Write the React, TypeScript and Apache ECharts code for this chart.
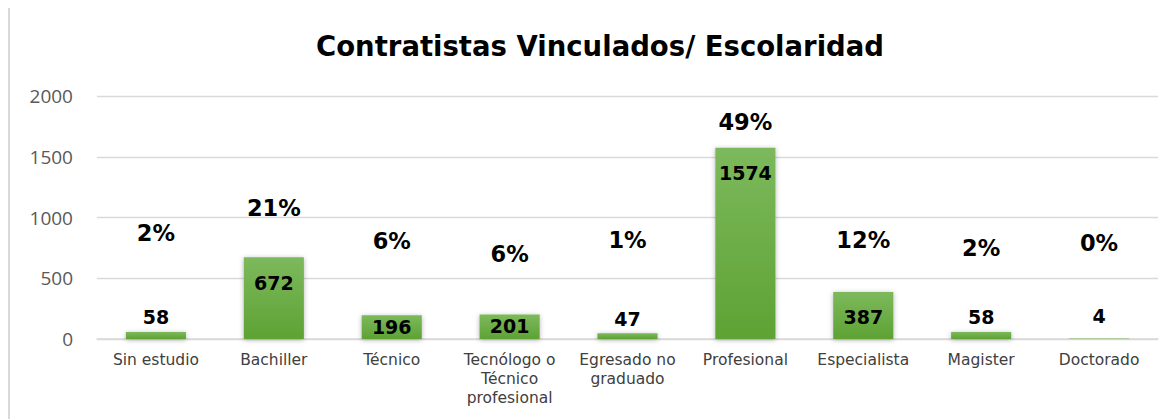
import React, { useEffect, useRef } from "react";
import * as echarts from "echarts";

const titleText = "Contratistas Vinculados/ Escolaridad";
const categories = [
  "Sin estudio",
  "Bachiller",
  "Técnico",
  "Tecnólogo o\nTécnico\nprofesional",
  "Egresado no\ngraduado",
  "Profesional",
  "Especialista",
  "Magister",
  "Doctorado",
];
const values = [58, 672, 196, 201, 47, 1574, 387, 58, 4];
// Height (in axis units) at which each percentage label sits
const pctLabelY = [872, 1078, 807, 700, 815, 1786, 815, 749, 790];
const yTicks = [0, 500, 1000, 1500, 2000];

export default function App() {
  const ref = useRef<HTMLDivElement>(null);
  useEffect(() => {
    if (!ref.current) return;
    const chart = echarts.init(ref.current, undefined, { renderer: "svg" });
    const total = values.reduce((a, b) => a + b, 0);
    const pct = values.map((v) => Math.round((v / total) * 100) + "%");
    const font = "'DejaVu Sans', sans-serif";

    const barData = values.map((v) => {
      let label: any;
      if (v >= 300) label = { position: "insideTop", distance: 16 };
      else if (v >= 100) label = { position: "insideTop", distance: 2 };
      else if (v >= 20) label = { position: "top", distance: 5 };
      else label = { position: "top", distance: 13 };
      return { value: v, label };
    });

    chart.setOption({
      animation: false,
      title: {
        text: titleText,
        left: 585,
        top: 19,
        textAlign: "center",
        textStyle: { fontFamily: font, fontWeight: "bold", fontSize: 27.5, color: "#000" },
      },
      grid: { left: 87, right: 16, top: 88, bottom: 80, containLabel: false },
      xAxis: {
        type: "category",
        data: categories,
        axisTick: { show: false },
        axisLine: { lineStyle: { color: "#d9d9d9", width: 1.5 } },
        axisLabel: {
          color: "#404040",
          fontFamily: font,
          fontSize: 15.5,
          lineHeight: 19,
          margin: 11,
          interval: 0,
        },
      },
      yAxis: {
        type: "value",
        min: yTicks[0],
        max: yTicks[yTicks.length - 1],
        interval: 500,
        axisLine: { show: false },
        axisTick: { show: false },
        splitLine: { lineStyle: { color: "#d9d9d9", width: 1.3 } },
        axisLabel: {
          color: "#595959",
          fontFamily: "'Open Sans', sans-serif",
          fontSize: 19,
          margin: 24,
          formatter: (v: number) => String(v),
        },
      },
      series: [
        {
          type: "bar",
          data: barData,
          barWidth: "51%",
          itemStyle: {
            color: new echarts.graphic.LinearGradient(0, 0, 0, 1, [
              { offset: 0, color: "#7cb95c" },
              { offset: 1, color: "#5ea234" },
            ]),
            shadowBlur: 5,
            shadowColor: "rgba(0,0,0,0.3)",
            shadowOffsetY: 1,
          },
          label: {
            show: true,
            color: "#000",
            fontFamily: font,
            fontWeight: "bold",
            fontSize: 19,
          },
          z: 2,
        },
        {
          type: "scatter",
          data: pctLabelY.map((y, i) => [i, y]),
          symbolSize: 0,
          itemStyle: { color: "#000", opacity: 1 },
          silent: true,
          label: {
            show: true,
            position: "inside",
            formatter: (p: any) => pct[p.dataIndex],
            color: "#000",
            opacity: 1,
            fontFamily: font,
            fontWeight: "bold",
            fontSize: 22.5,
          },
          z: 3,
        },
      ],
    });
    return () => chart.dispose();
  }, []);

  return (
    <div
      ref={ref}
      style={{
        width: 1164,
        height: 411,
        marginTop: -2,
        borderTop: "2px solid #d9d9d9",
        borderLeft: "2px solid #d9d9d9",
      }}
    />
  );
}
